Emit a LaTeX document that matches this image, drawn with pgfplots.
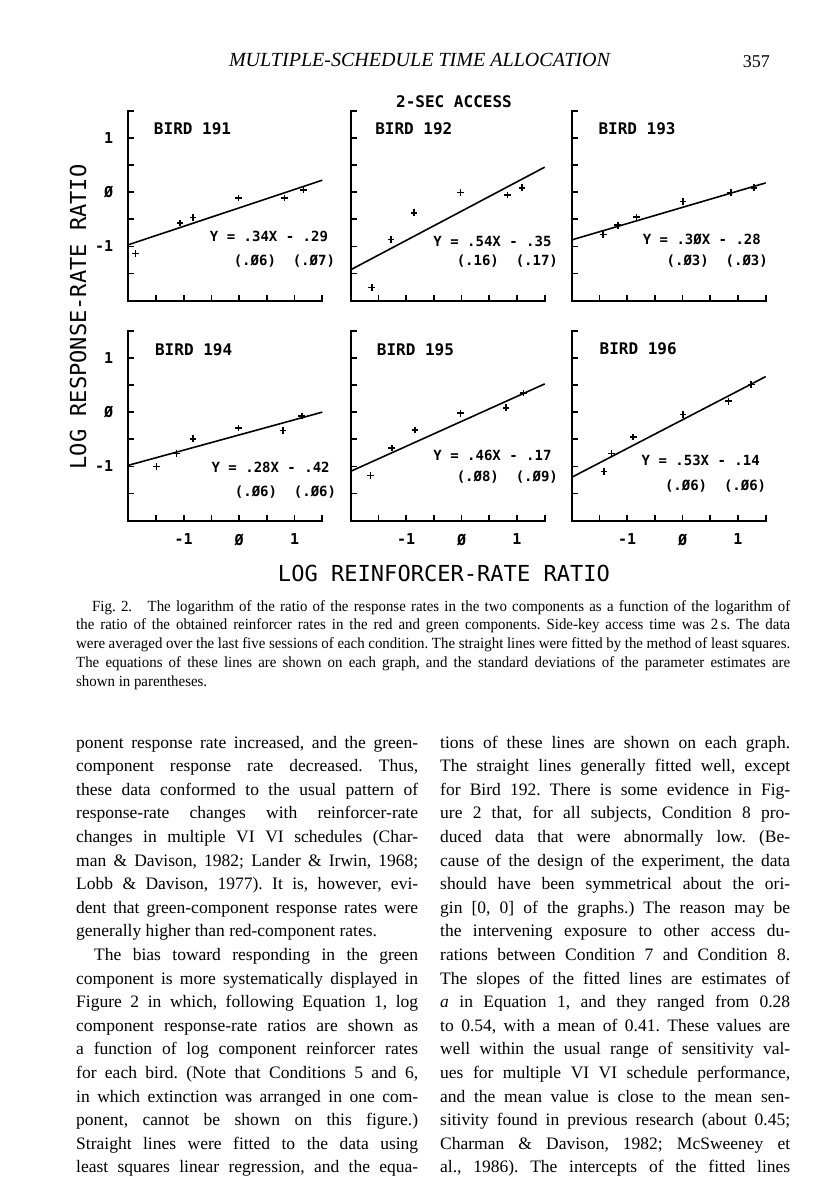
\documentclass[border=0pt]{standalone}
\usepackage{fontspec}
\setmainfont{Liberation Serif}
\newfontfamily\plotfont{DejaVu Sans Mono}
\newfontfamily\capfont[FakeStretch=0.96]{Liberation Serif}
\usepackage{pgfplots}
\pgfplotsset{compat=1.18}
\frenchspacing

\pgfplotsset{panel/.style={
  scale only axis, width=194pt, height=190pt, anchor=south west,
  xmin=-2, xmax=1.5, ymin=-2, ymax=1.5,
  axis x line*=bottom, axis y line*=left,
  axis line style={line width=2pt, line cap=rect},
  xtick={-2,-1.5,-1,-0.5,0,0.5,1,1.5},
  ytick={-2,-1.5,-1,-0.5,0,0.5,1,1.5},
  xticklabels={}, yticklabels={},
  tick align=inside, major tick length=6pt,
  tick style={line width=1.8pt, black},
  clip=false,
  ticklabel style={font=\plotfont\bfseries\fontsize{15}{15}\selectfont, inner sep=0pt},
  xticklabel shift=13pt, yticklabel shift=15pt,
},
pts/.style={only marks, mark=+, mark size=3.3pt, mark options={line width=1.6pt}, black},
fit/.style={no marks, line width=1.6pt, black},
}
\tikzset{
bird/.style={anchor=west, inner sep=0pt, font=\plotfont\bfseries\fontsize{16}{16}\selectfont},
eq/.style={anchor=west, inner sep=0pt, font=\plotfont\bfseries\fontsize{14}{14}\selectfont},
}

\newcommand\BL[4]{\node[anchor=base west, inner sep=0pt] at ({#1pt},{-(748+23.6*(#2-1))*1pt}) {\makebox[#3pt][s]{#4}};}
\newcommand\BN[3]{\node[anchor=base west, inner sep=0pt] at ({#1pt},{-(748+23.6*(#2-1))*1pt}) {#3};}
\newcommand\CL[4]{\node[anchor=base west, inner sep=0pt] at ({#1pt},{-(611+18.75*(#2-1))*1pt}) {\makebox[#3pt][s]{#4}};}

\begin{document}
\begin{tikzpicture}
\useasboundingbox[fill=white] (0,0) rectangle (816pt,-1200pt);

% header
\node[inner sep=0pt, anchor=center] at (419.5pt,-60pt) {\resizebox{381pt}{!}{\itshape MULTIPLE-SCHEDULE TIME ALLOCATION}};
\node[inner sep=0pt, anchor=base east] at (770pt,-67pt) {\fontsize{18}{18}\selectfont 357};

\node[inner sep=0pt, font=\plotfont\bfseries\fontsize{16}{16}\selectfont] at (454pt,-101.7pt) {2-SEC ACCESS};

% Bird 191
\begin{axis}[panel, at={(128.3pt,-300.7pt)}, yticklabels={,,-1,,Ø,,1,}]
\addplot[pts] coordinates {(-1.87,-1.13) (-1.07,-0.565) (-0.83,-0.47) (-0.01,-0.11) (0.82,-0.11) (1.16,0.04)};
\addplot[fit] coordinates {(-2,-0.97) (1.5,0.22)};
\node[bird] at (axis cs:-1.54,1.16) {BIRD 191};
\node[eq] at (axis cs:-0.53,-0.81) {Y = .34X - .29};
\node[eq] at (axis cs:-0.10,-1.27) {(.Ø6)~~(.Ø7)};
\end{axis}

% Bird 192
\begin{axis}[panel, at={(350.7pt,-300.7pt)}]
\addplot[pts] coordinates {(-1.62,-1.76) (-1.27,-0.87) (-0.86,-0.38) (-0.02,-0.01) (0.83,-0.05) (1.09,0.08)};
\addplot[fit] coordinates {(-2,-1.43) (1.5,0.46)};
\node[bird] at (axis cs:-1.56,1.16) {BIRD 192};
\node[eq] at (axis cs:-0.51,-0.915) {Y = .54X - .35};
\node[eq] at (axis cs:-0.09,-1.27) {(.16)~~(.17)};
\end{axis}

% Bird 193
\begin{axis}[panel, at={(571.7pt,-300.7pt)}]
\addplot[pts] coordinates {(-1.43,-0.78) (-1.17,-0.61) (-0.83,-0.46) (0.01,-0.17) (0.87,-0.01) (1.29,0.08)};
\addplot[fit] coordinates {(-2,-0.88) (1.5,0.17)};
\node[bird] at (axis cs:-1.52,1.16) {BIRD 193};
\node[eq] at (axis cs:-0.72,-0.87) {Y = .3ØX - .28};
\node[eq] at (axis cs:-0.29,-1.27) {(.Ø3)~~(.Ø3)};
\end{axis}

% Bird 194
\begin{axis}[panel, at={(128.3pt,-520.7pt)}, yticklabels={,,-1,,Ø,,1,}, xticklabels={,,-1,,Ø,,1,}]
\addplot[pts] coordinates {(-1.49,-1.0) (-1.13,-0.76) (-0.83,-0.49) (-0.01,-0.29) (0.79,-0.34) (1.13,-0.07)};
\addplot[fit] coordinates {(-2,-0.98) (1.5,0.0)};
\node[bird] at (axis cs:-1.52,1.14) {BIRD 194};
\node[eq] at (axis cs:-0.50,-1.02) {Y = .28X - .42};
\node[eq] at (axis cs:-0.08,-1.48) {(.Ø6)~~(.Ø6)};
\end{axis}

% Bird 195
\begin{axis}[panel, at={(350.7pt,-520.7pt)}, xticklabels={,,-1,,Ø,,1,}]
\addplot[pts] coordinates {(-1.64,-1.17) (-1.26,-0.66) (-0.84,-0.33) (-0.02,-0.02) (0.80,0.08) (1.12,0.35)};
\addplot[fit] coordinates {(-2,-1.09) (1.5,0.52)};
\node[bird] at (axis cs:-1.53,1.14) {BIRD 195};
\node[eq] at (axis cs:-0.51,-0.80) {Y = .46X - .17};
\node[eq] at (axis cs:-0.09,-1.19) {(.Ø8)~~(.Ø9)};
\end{axis}

% Bird 196
\begin{axis}[panel, at={(571.7pt,-520.7pt)}, xticklabels={,,-1,,Ø,,1,}]
\addplot[pts] coordinates {(-1.42,-1.09) (-1.28,-0.76) (-0.89,-0.46) (0.01,-0.04) (0.83,0.20) (1.24,0.51)};
\addplot[fit] coordinates {(-2,-1.2) (1.5,0.655)};
\node[bird] at (axis cs:-1.50,1.17) {BIRD 196};
\node[eq] at (axis cs:-0.74,-0.89) {Y = .53X - .14};
\node[eq] at (axis cs:-0.32,-1.36) {(.Ø6)~~(.Ø6)};
\end{axis}

% axis labels
\node[inner sep=0pt, rotate=90] at (78pt,-317pt) {\resizebox{305pt}{!}{\plotfont LOG RESPONSE-RATE RATIO}};
\node[inner sep=0pt] at (444pt,-573pt) {\resizebox{332pt}{!}{\plotfont LOG REINFORCER-RATE RATIO}};

% caption
\begin{scope}[every node/.append style={font=\capfont\fontsize{15.5}{18}\selectfont}]
\CL{92}{1}{698}{Fig. 2.\quad The logarithm of the ratio of the response rates in the two components as a function of the logarithm of}
\CL{76}{2}{714}{the ratio of the obtained reinforcer rates in the red and green components. Side-key access time was 2\,s. The data}
\CL{76}{3}{714}{were averaged over the last five sessions of each condition. The straight lines were fitted by the method of least squares.}
\CL{76}{4}{714}{The equations of these lines are shown on each graph, and the standard deviations of the parameter estimates are}
\node[anchor=base west, inner sep=0pt] at (76pt,{-(611+18.75*4)*1pt}) {shown in parentheses.};
\end{scope}

% body text
\begin{scope}[every node/.append style={font=\fontsize{17.5}{21}\selectfont}]
\BL{76}{1}{342}{ponent response rate increased, and the green-}
\BL{76}{2}{342}{component response rate decreased. Thus,}
\BL{76}{3}{342}{these data conformed to the usual pattern of}
\BL{76}{4}{342}{response-rate changes with reinforcer-rate}
\BL{76}{5}{342}{changes in multiple VI VI schedules (Char-}
\BL{76}{6}{342}{man \& Davison, 1982; Lander \& Irwin, 1968;}
\BL{76}{7}{342}{Lobb \& Davison, 1977). It is, however, evi-}
\BL{76}{8}{342}{dent that green-component response rates were}
\BN{76}{9}{generally higher than red-component rates.}
\BL{94}{10}{324}{The bias toward responding in the green}
\BL{76}{11}{342}{component is more systematically displayed in}
\BL{76}{12}{342}{Figure 2 in which, following Equation 1, log}
\BL{76}{13}{342}{component response-rate ratios are shown as}
\BL{76}{14}{342}{a function of log component reinforcer rates}
\BL{76}{15}{342}{for each bird. (Note that Conditions 5 and 6,}
\BL{76}{16}{342}{in which extinction was arranged in one com-}
\BL{76}{17}{342}{ponent, cannot be shown on this figure.)}
\BL{76}{18}{342}{Straight lines were fitted to the data using}
\BL{76}{19}{342}{least squares linear regression, and the equa-}

\BL{440}{1}{350}{tions of these lines are shown on each graph.}
\BL{440}{2}{350}{The straight lines generally fitted well, except}
\BL{440}{3}{350}{for Bird 192. There is some evidence in Fig-}
\BL{440}{4}{350}{ure 2 that, for all subjects, Condition 8 pro-}
\BL{440}{5}{350}{duced data that were abnormally low. (Be-}
\BL{440}{6}{350}{cause of the design of the experiment, the data}
\BL{440}{7}{350}{should have been symmetrical about the ori-}
\BL{440}{8}{350}{gin [0, 0] of the graphs.) The reason may be}
\BL{440}{9}{350}{the intervening exposure to other access du-}
\BL{440}{10}{350}{rations between Condition 7 and Condition 8.}
\BL{440}{11}{350}{The slopes of the fitted lines are estimates of}
\BL{440}{12}{350}{\textit{a} in Equation 1, and they ranged from 0.28}
\BL{440}{13}{350}{to 0.54, with a mean of 0.41. These values are}
\BL{440}{14}{350}{well within the usual range of sensitivity val-}
\BL{440}{15}{350}{ues for multiple VI VI schedule performance,}
\BL{440}{16}{350}{and the mean value is close to the mean sen-}
\BL{440}{17}{350}{sitivity found in previous research (about 0.45;}
\BL{440}{18}{350}{Charman \& Davison, 1982; McSweeney et}
\BL{440}{19}{350}{al., 1986). The intercepts of the fitted lines}
\end{scope}
\end{tikzpicture}
\end{document}
